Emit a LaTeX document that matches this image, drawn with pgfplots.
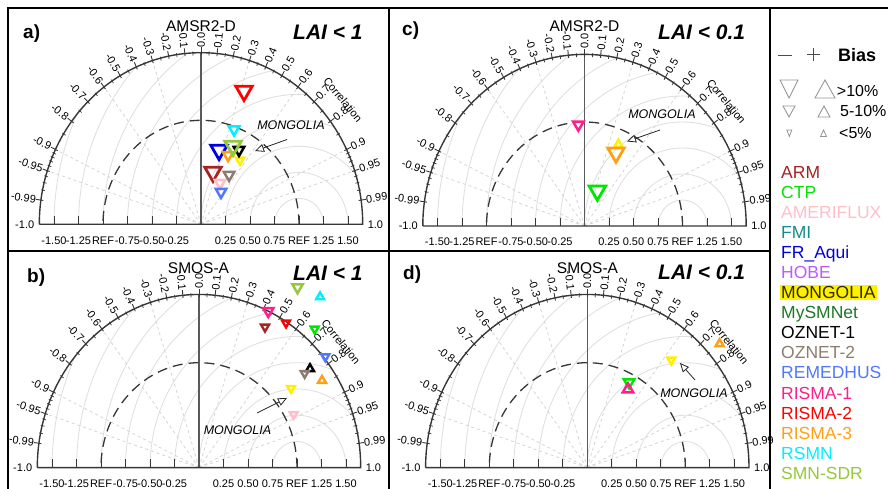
\documentclass[border=0pt]{standalone}
\usepackage{fontspec}
\setmainfont{Liberation Sans}
\usepackage{pgfplots}
\pgfplotsset{compat=1.18}
\usepackage{pgfplotstable}
\usetikzlibrary{arrows.meta}

\newcommand\fs[1]{\fontsize{#1}{#1}\selectfont}

% network colours, indexed as in the data tables
\definecolor{net0}{RGB}{165,35,35}    % ARM
\definecolor{net1}{RGB}{0,230,0}      % CTP
\definecolor{net2}{RGB}{255,190,200}  % AMERIFLUX
\definecolor{net3}{RGB}{20,140,140}   % FMI
\definecolor{net4}{RGB}{0,0,220}      % FR_Aqui
\definecolor{net5}{RGB}{190,90,250}   % HOBE
\definecolor{net6}{RGB}{255,240,0}    % MONGOLIA
\definecolor{net7}{RGB}{30,120,40}    % MySMNet
\definecolor{net8}{RGB}{0,0,0}        % OZNET-1
\definecolor{net9}{RGB}{140,125,110}  % OZNET-2
\definecolor{net10}{RGB}{80,120,255}  % REMEDHUS
\definecolor{net11}{RGB}{255,30,140}  % RISMA-1
\definecolor{net12}{RGB}{255,0,0}     % RISMA-2
\definecolor{net13}{RGB}{255,160,20}  % RISMA-3
\definecolor{net14}{RGB}{0,240,255}   % RSMN
\definecolor{net15}{RGB}{150,200,60}  % SMN-SDR

\definecolor{gridgray}{RGB}{224,224,224}
\definecolor{raygray}{RGB}{212,212,212}
\definecolor{framegray}{RGB}{55,55,55}
\definecolor{zerogray}{RGB}{90,90,90}
\definecolor{legtri}{RGB}{150,150,150}

% hollow triangle: apex up for positive bias (dir=1), down for negative (dir=-1)
\pgfdeclareplotmark{biastri}{%
  \pgfmathtruncatemacro\tn{round(\tnet)}%
  \pgfmathsetmacro\ta{90*\tdir}%
  \pgfmathsetmacro\tb{\ta+120}%
  \pgfmathsetmacro\tc{\ta+240}%
  \pgfsetlinewidth{\tlw pt}%
  \pgfsetstrokecolor{net\tn}%
  \pgfpathmoveto{\pgfpointpolar{\ta}{\tsz pt}}%
  \pgfpathlineto{\pgfpointpolar{\tb}{\tsz pt}}%
  \pgfpathlineto{\pgfpointpolar{\tc}{\tsz pt}}%
  \pgfpathclose
  \pgfusepathqstroke}

\pgfplotsset{
  taylorax/.style={hide axis, clip=false, anchor=origin, x=98pt,
    xmin=-2, xmax=2.2, ymin=-0.3, ymax=2.3},
  biaspts/.style={scatter, only marks, mark=biastri,
    point meta=explicit,
    visualization depends on={\thisrow{net} \as \tnet},
    visualization depends on={\thisrow{sz} \as \tsz},
    visualization depends on={\thisrow{dir} \as \tdir},
    visualization depends on={\thisrow{lw} \as \tlw}},
}

% normalised standard deviation, correlation, network index, marker size, bias sign, stroke
% net: 0 ARM 1 CTP 2 AMERIFLUX 3 FMI 4 FR_Aqui 5 HOBE 6 MONGOLIA 7 MySMNet
%      8 OZNET-1 9 OZNET-2 10 REMEDHUS 11 RISMA-1 12 RISMA-2 13 RISMA-3 14 RSMN 15 SMN-SDR
\pgfplotstableread{
std   corr   net sz  dir lw
0.518 0.236  0   9.5 -1  2.8
0.442 0.439  2   6.0 -1  2.5
0.737 0.250  4   9.5 -1  2.8
0.735 0.541  6   4.8 -1  2.4
0.813 0.477  8   6.0 -1  2.5
0.554 0.517  9   6.0 -1  2.5
0.372 0.549  10  6.0 -1  2.5
1.355 0.324  12  9.5 -1  2.8
0.721 0.383  13  6.0 -1  2.5
0.972 0.347  14  6.0 -1  2.5
0.821 0.398  15  9.5 -1  2.8
}\tabAmsrOne

\pgfplotstableread{
std   corr   net sz  dir lw
0.363 0.361  1   9.5 -1  2.8
0.857 0.403  6   4.6  1  2.4
0.972 -0.065 11  6.0 -1  2.5
0.774 0.415  13  9.5 -1  2.8
}\tabAmsrTenth

\pgfplotstableread{
std   corr   net sz  dir lw
1.500 0.449  0   4.6 -1  2.4
1.772 0.666  1   4.6 -1  2.4
1.091 0.885  2   4.6 -1  2.4
1.206 0.779  6   4.6 -1  2.4
1.473 0.769  8   4.6  1  2.4
1.404 0.768  9   4.6 -1  2.4
1.667 0.773  10  4.6 -1  2.4
1.651 0.428  11  6.0 -1  2.5
1.641 0.541  12  4.6 -1  2.4
1.505 0.834  13  4.6  1  2.4
2.042 0.605  14  4.6  1  2.4
1.991 0.505  15  6.0 -1  2.5
}\tabSmosOne

\pgfplotstableread{
std   corr   net sz  dir lw
0.918 0.464  1   6.0 -1  2.5
1.337 0.641  6   4.6 -1  2.4
0.854 0.486  11  6.0  1  2.5
1.793 0.753  13  4.6  1  2.4
}\tabSmosTenth

\newcommand\biasplot[1]{\addplot[biaspts] table[x expr=\thisrow{std}*\thisrow{corr},
  y expr=\thisrow{std}*sqrt(1-\thisrow{corr}^2), meta=net] {#1};}

% Taylor-diagram background: #1,#2 origin, #3 vertical unit
\newcommand{\taylorframe}[3]{%
\begin{scope}[shift={(#1pt,#2pt)}, x=98pt, y=#3pt]
  \foreach \rr/\ph in {0.25/0,0.5/0,0.75/39.4,1/68.8,1.25/86.3,1.5/100.1,1.75/112.5,2/124.7,2.25/137.9,2.5/154.9}
    {\draw[gridgray, line width=0.9pt] (1,0) ++(\ph:\rr) arc[start angle=\ph, end angle=180, radius=\rr];}
  \foreach \c in {0.3,0.6,0.9,0.95,-0.3,-0.6,-0.9,-0.95}
    {\pgfmathsetmacro\ang{acos(\c)}\draw[raygray, line width=0.8pt, dash pattern=on 3pt off 3pt] (0,0) -- (\ang:1.65);}
  \draw[framegray, line width=1.3pt, dash pattern=on 10pt off 6pt] (1,0) arc[start angle=0, end angle=180, radius=1];
  \draw[zerogray, line width=1.5pt] (0,0) -- (0,1.65);
  \draw[framegray, line width=1.4pt] (-1.65,0) -- (1.65,0) arc[start angle=0, end angle=180, radius=1.65];
  % correlation ticks
  \foreach \c in {0,0.1,0.2,0.3,0.4,0.5,0.6,0.7,0.8,0.9,0.95,0.99,-0.1,-0.2,-0.3,-0.4,-0.5,-0.6,-0.7,-0.8,-0.9,-0.95,-0.99}
    {\pgfmathsetmacro\ang{acos(\c)}\draw[framegray, line width=0.9pt] (\ang:1.625) -- (\ang:1.70);}
  \foreach \c in {0.05,0.15,0.25,0.35,0.45,0.55,0.65,0.75,0.85,0.91,0.92,0.93,0.94,0.96,0.97,0.98,
                  -0.05,-0.15,-0.25,-0.35,-0.45,-0.55,-0.65,-0.75,-0.85,-0.91,-0.92,-0.93,-0.94,-0.96,-0.97,-0.98}
    {\pgfmathsetmacro\ang{acos(\c)}\draw[framegray, line width=0.7pt] (\ang:1.625) -- (\ang:1.665);}
  \foreach \c/\t in {0/0.0,0.1/0.1,0.2/0.2,0.3/0.3,0.4/0.4,0.5/0.5,0.6/0.6,0.7/0.7,0.8/0.8,0.9/0.9,0.95/0.95,0.99/0.99,1/1.0}
    {\pgfmathsetmacro\ang{acos(\c)}\node[anchor=west, inner sep=0pt, rotate=\ang, font=\fs{11}] at (\ang:1.70) {\t};}
  \foreach \c/\t in {-0.1/-0.1,-0.2/-0.2,-0.3/-0.3,-0.4/-0.4,-0.5/-0.5,-0.6/-0.6,-0.7/-0.7,-0.8/-0.8,-0.9/-0.9,-0.95/-0.95,-0.99/-0.99,-1/-1.0}
    {\pgfmathsetmacro\ang{acos(\c)}\pgfmathsetmacro\rot{\ang-180}\node[anchor=east, inner sep=0pt, rotate=\rot, font=\fs{11}] at (\ang:1.70) {\t};}
  \node[rotate=-50.4, font=\fs{11}] at (39.6:1.88) {Correlation};
  % standard deviation axis
  \foreach \v/\t in {-1.5/-1.50,-1.25/-1.25,-1/REF,-0.75/-0.75,-0.5/-0.50,-0.25/-0.25,0.25/0.25,0.5/0.50,0.75/0.75,1/REF,1.25/1.25,1.5/1.50}
    {\draw[framegray, line width=1pt] (\v,0) -- (\v,0.08);
     \node[font=\fs{11}, inner sep=0pt] at (\v,-0.155) {\t};}
\end{scope}}

\newcommand\legname[3]{\node[anchor=base west, inner sep=0pt, text=#2, font=\fs{17.5}] at (781,{310.7-20.07*#1}) {#3};}

\begin{document}
\begin{tikzpicture}[x=1pt, y=1pt]
\useasboundingbox (0,0) rectangle (888,489);

\taylorframe{201}{264.7}{104}
\taylorframe{584.5}{263}{104}
\taylorframe{199}{21.3}{105}
\taylorframe{587.3}{21.3}{105}

\begin{axis}[taylorax, at={(201pt,264.7pt)}, y=104pt]
  \biasplot{\tabAmsrOne}
\end{axis}
\begin{axis}[taylorax, at={(584.5pt,263pt)}, y=104pt]
  \biasplot{\tabAmsrTenth}
\end{axis}
\begin{axis}[taylorax, at={(199pt,21.3pt)}, y=105pt]
  \biasplot{\tabSmosOne}
\end{axis}
\begin{axis}[taylorax, at={(587.3pt,21.3pt)}, y=105pt]
  \biasplot{\tabSmosTenth}
\end{axis}

% panel headings
\node[anchor=base, font=\fs{15.5}] at (201,457) {AMSR2-D};
\node[anchor=base, font=\fs{15.5}] at (584.5,457) {AMSR2-D};
\node[anchor=base, font=\fs{15.5}] at (198.5,215.7) {SMOS-A};
\node[anchor=base, font=\fs{15.5}] at (587.5,215) {SMOS-A};
\node[anchor=base west, inner sep=0pt, font=\fs{19}\bfseries] at (23,450.7) {a)};
\node[anchor=base west, inner sep=0pt, font=\fs{19}\bfseries] at (402,453) {c)};
\node[anchor=base west, inner sep=0pt, font=\fs{19}\bfseries] at (27,206.7) {b)};
\node[anchor=base west, inner sep=0pt, font=\fs{19}\bfseries] at (403,209.7) {d)};
\node[anchor=base west, inner sep=0pt, font=\fs{21}\bfseries\itshape] at (293,449) {LAI < 1};
\node[anchor=base west, inner sep=0pt, font=\fs{21}\bfseries\itshape] at (658,449.7) {LAI < 0.1};
\node[anchor=base west, inner sep=0pt, font=\fs{21}\bfseries\itshape] at (293,208) {LAI < 1};
\node[anchor=base west, inner sep=0pt, font=\fs{21}\bfseries\itshape] at (658,209) {LAI < 0.1};

% MONGOLIA call-outs
\tikzset{callout/.style={draw=black!85, line width=0.8pt, -{Triangle[open, length=9pt, width=8pt]}}}
\node[font=\fs{12.5}\itshape] at (291,364) {MONGOLIA};
\draw[callout] (287,349.5) -- (255,338);
\node[font=\fs{12.5}\itshape] at (662,375) {MONGOLIA};
\draw[callout] (660,359) -- (627,347.5);
\node[font=\fs{12.5}\itshape] at (237.5,59) {MONGOLIA};
\draw[callout] (257,76) -- (287,91);
\node[font=\fs{12.5}\itshape] at (694,96) {MONGOLIA};
\draw[callout] (695,109) -- (680,126);

% key: bias sign and magnitude
\draw[black!70, line width=0.9pt] (778,434) -- (792,434);
\draw[black!70, line width=0.9pt] (807,434.5) -- (820,434.5) (813.5,428) -- (813.5,441);
\node[anchor=base west, inner sep=0pt, font=\fs{18}\bfseries] at (838,427.3) {Bias};
\draw[legtri, line width=0.9pt] (780,409) -- (798,409) -- (789,391) -- cycle;
\draw[legtri, line width=0.9pt] (815,391) -- (835,391) -- (825,409) -- cycle;
\draw[legtri, line width=0.9pt] (783,383) -- (795,383) -- (789,372) -- cycle;
\draw[legtri, line width=0.9pt] (818,372) -- (830,372) -- (824,383) -- cycle;
\draw[legtri, line width=0.8pt] (786.8,359) -- (791.8,359) -- (789.3,352.5) -- cycle;
\draw[legtri, line width=0.8pt] (820.5,352.5) -- (826.5,352.5) -- (823.5,359) -- cycle;
\node[anchor=base west, inner sep=0pt, font=\fs{16}] at (836.7,392.3) {>10\%};
\node[anchor=base west, inner sep=0pt, font=\fs{16}] at (840,372.3) {5-10\%};
\node[anchor=base west, inner sep=0pt, font=\fs{16}] at (839,350.7) {<5\%};

% key: networks
\legname{0}{net0}{ARM}
\legname{1}{net1}{CTP}
\legname{2}{net2}{AMERIFLUX}
\legname{3}{net3}{FMI}
\legname{4}{net4}{FR\_Aqui}
\legname{5}{net5}{HOBE}
\node[anchor=base west, inner sep=1.2pt, fill=net6, text={rgb,255:red,45;green,45;blue,0}, font=\fs{17.5}] at (779.8,{310.7-20.07*6}) {MONGOLIA};
\legname{7}{net7}{MySMNet}
\legname{8}{net8}{OZNET-1}
\legname{9}{net9}{OZNET-2}
\legname{10}{net10}{REMEDHUS}
\legname{11}{net11}{RISMA-1}
\legname{12}{net12}{RISMA-2}
\legname{13}{net13}{RISMA-3}
\legname{14}{net14}{RSMN}
\legname{15}{net15}{SMN-SDR}

% panel frames
\draw[black, line width=2pt] (7.5,480.5) -- (888,480.5);
\draw[black, line width=2pt] (7.5,481.5) -- (7.5,0);
\draw[black, line width=2pt] (389.3,481.5) -- (389.3,0);
\draw[black, line width=2pt] (7.5,238) -- (770,238);
\draw[black, line width=1.6pt] (770,481.5) -- (770,0);
\end{tikzpicture}
\end{document}
